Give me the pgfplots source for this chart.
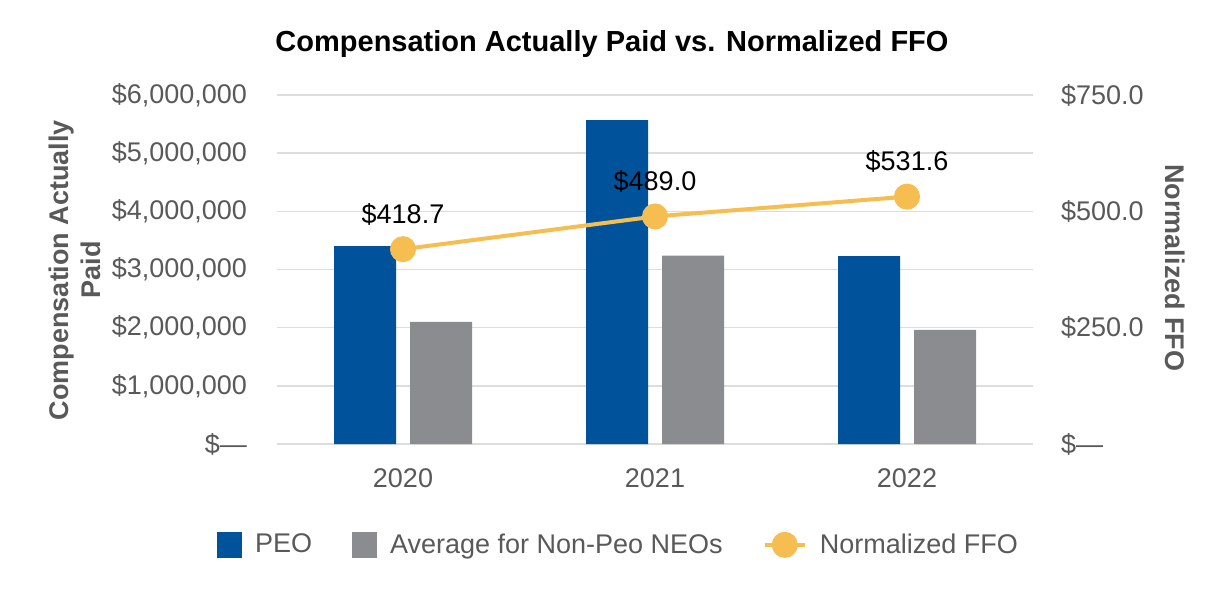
\documentclass[border=0pt]{standalone}
\usepackage{pgfplots}
\pgfplotsset{compat=1.18}
\usepackage{fontspec}
\setmainfont{Liberation Sans}

\definecolor{peoblue}{HTML}{00529B}
\definecolor{neogray}{HTML}{8B8C8F}
\definecolor{ffoyellow}{HTML}{F6BE50}
\definecolor{txtgray}{HTML}{595959}
\definecolor{gridgray}{HTML}{DDDDDD}

\newcommand{\lblfont}{\fontsize{13.5}{16}\selectfont}

\pgfplotsset{
  sqlegend/.style={legend image code/.code={\fill[##1] (0pt,-6.5pt) rectangle (12.5pt,6.5pt);}},
  linelegend/.style={legend image code/.code={\draw[##1, mark repeat=2, mark phase=2]
    plot coordinates {(0pt,0pt) (10pt,0pt) (20pt,0pt)};}},
}

\begin{document}
\begin{tikzpicture}
\useasboundingbox (0,0) rectangle (613pt,300pt);
\pgfplotsset{
  base/.style={
    at={(138.5pt,78pt)}, anchor=south west,
    scale only axis, width=378pt, height=174.5pt,
    xmin=-0.5, xmax=2.5,
    axis line style={draw=none},
    major tick length=0pt,
    tick label style={font=\lblfont, text=txtgray},
    clip=false,
  }
}

% bars, left axis
\begin{axis}[base,
  ymin=0, ymax=6000000,
  ytick={0,1000000,2000000,3000000,4000000,5000000,6000000},
  yticklabels={\$—,{\$1,000,000},{\$2,000,000},{\$3,000,000},{\$4,000,000},{\$5,000,000},{\$6,000,000}},
  scaled y ticks=false,
  ymajorgrids, grid style={draw=gridgray, line width=0.7pt},
  xtick={0,1,2}, xticklabels={2020,2021,2022},
  yticklabel style={xshift=-11.5pt},
  xticklabel style={yshift=-9pt},
  ybar=7pt, bar width=31pt,
]
\addplot[fill=peoblue, draw=none] coordinates {(0,3400000) (1,5570000) (2,3230000)};
\addplot[fill=neogray, draw=none] coordinates {(0,2100000) (1,3240000) (2,1960000)};
\end{axis}

% line, right axis
\begin{axis}[base,
  ymin=0, ymax=750,
  ytick={0,250,500,750},
  yticklabels={\$—,\$250.0,\$500.0,\$750.0},
  axis y line*=right, axis x line=none,
  yticklabel style={xshift=10.5pt},
  legend columns=3,
  legend style={at={(axis description cs:0.453,-0.289)}, anchor=center,
    draw=none, font=\lblfont, text=txtgray,
    /tikz/every odd column/.append style={column sep=4.5pt},
    /tikz/every even column/.append style={column sep=18pt}},
]
\addlegendimage{fill=peoblue, draw=none, sqlegend}
\addlegendentry{PEO}
\addlegendimage{fill=neogray, draw=none, sqlegend}
\addlegendentry{Average for Non-Peo NEOs}
\addplot[color=ffoyellow, line width=2pt, mark=*, mark size=5.5pt, linelegend,
  nodes near coords, point meta=explicit symbolic,
  nodes near coords style={text=black, font=\lblfont, anchor=center, yshift=17.5pt}]
  coordinates {(0,418.7) [\$418.7] (1,489.0) [\$489.0] (2,531.6) [\$531.6]};
\addlegendentry{Normalized FFO}
\end{axis}

\node[font=\bfseries\fontsize{14.5}{17}\selectfont] at (306pt,278pt)
  {Compensation Actually Paid vs. Normalized FFO};
\node[rotate=90, align=center, font=\bfseries\lblfont, text=txtgray] at (37.5pt,165pt)
  {Compensation Actually\\Paid};
\node[rotate=-90, font=\bfseries\lblfont, text=txtgray] at (587.5pt,166pt)
  {Normalized FFO};
\end{tikzpicture}
\end{document}
